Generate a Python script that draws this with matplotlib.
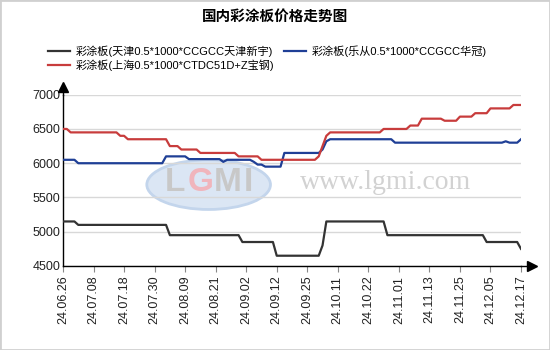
import matplotlib
matplotlib.use("Agg")
import matplotlib.pyplot as plt
from matplotlib.lines import Line2D
from matplotlib.patches import Ellipse, Rectangle
import numpy as np

plt.rcParams['font.family'] = ['Liberation Sans', 'Noto Sans CJK SC']

# tick labels, one every 8 trading days
tick_labels = ["24.06.26", "24.07.08", "24.07.18", "24.07.30", "24.08.09", "24.08.21",
               "24.09.02", "24.09.12", "24.09.25", "24.10.11", "24.10.22", "24.11.01",
               "24.11.13", "24.11.25", "24.12.05", "24.12.17"]

# 彩涂板(天津0.5*1000*CCGCC天津新宇)
tianjin = [5150, 5150, 5150, 5150, 5100, 5100, 5100, 5100, 5100, 5100,
           5100, 5100, 5100, 5100, 5100, 5100, 5100, 5100, 5100, 5100,
           5100, 5100, 5100, 5100, 5100, 5100, 5100, 5100, 4950, 4950,
           4950, 4950, 4950, 4950, 4950, 4950, 4950, 4950, 4950, 4950,
           4950, 4950, 4950, 4950, 4950, 4950, 4950, 4850, 4850, 4850,
           4850, 4850, 4850, 4850, 4850, 4850, 4650, 4650, 4650, 4650,
           4650, 4650, 4650, 4650, 4650, 4650, 4650, 4650, 4800, 5150,
           5150, 5150, 5150, 5150, 5150, 5150, 5150, 5150, 5150, 5150,
           5150, 5150, 5150, 5150, 5150, 4950, 4950, 4950, 4950, 4950,
           4950, 4950, 4950, 4950, 4950, 4950, 4950, 4950, 4950, 4950,
           4950, 4950, 4950, 4950, 4950, 4950, 4950, 4950, 4950, 4950,
           4950, 4850, 4850, 4850, 4850, 4850, 4850, 4850, 4850, 4850,
           4750]

# 彩涂板(乐从0.5*1000*CCGCC华冠)
lecong = [6050, 6050, 6050, 6050, 6000, 6000, 6000, 6000, 6000, 6000,
          6000, 6000, 6000, 6000, 6000, 6000, 6000, 6000, 6000, 6000,
          6000, 6000, 6000, 6000, 6000, 6000, 6000, 6100, 6100, 6100,
          6100, 6100, 6100, 6060, 6060, 6060, 6060, 6060, 6060, 6060,
          6060, 6060, 6020, 6050, 6050, 6050, 6050, 6050, 6050, 6050,
          6020, 5980, 5980, 5950, 5950, 5950, 5950, 5950, 6150, 6150,
          6150, 6150, 6150, 6150, 6150, 6150, 6150, 6150, 6200, 6320,
          6350, 6350, 6350, 6350, 6350, 6350, 6350, 6350, 6350, 6350,
          6350, 6350, 6350, 6350, 6350, 6350, 6350, 6300, 6300, 6300,
          6300, 6300, 6300, 6300, 6300, 6300, 6300, 6300, 6300, 6300,
          6300, 6300, 6300, 6300, 6300, 6300, 6300, 6300, 6300, 6300,
          6300, 6300, 6300, 6300, 6300, 6300, 6320, 6300, 6300, 6300,
          6350]

# 彩涂板(上海0.5*1000*CTDC51D+Z宝钢)
shanghai = [6500, 6500, 6450, 6450, 6450, 6450, 6450, 6450, 6450, 6450,
            6450, 6450, 6450, 6450, 6450, 6400, 6400, 6350, 6350, 6350,
            6350, 6350, 6350, 6350, 6350, 6350, 6350, 6350, 6250, 6250,
            6250, 6200, 6200, 6200, 6200, 6200, 6150, 6150, 6150, 6150,
            6150, 6150, 6150, 6150, 6150, 6150, 6100, 6100, 6100, 6100,
            6100, 6100, 6050, 6050, 6050, 6050, 6050, 6050, 6050, 6050,
            6050, 6050, 6050, 6050, 6050, 6050, 6050, 6100, 6250, 6400,
            6450, 6450, 6450, 6450, 6450, 6450, 6450, 6450, 6450, 6450,
            6450, 6450, 6450, 6450, 6500, 6500, 6500, 6500, 6500, 6500,
            6500, 6550, 6550, 6550, 6650, 6650, 6650, 6650, 6650, 6650,
            6620, 6620, 6620, 6620, 6680, 6680, 6680, 6680, 6730, 6730,
            6730, 6730, 6800, 6800, 6800, 6800, 6800, 6800, 6850, 6850,
            6850]

x = np.arange(len(tianjin))

fig = plt.figure(figsize=(5.5, 3.5), dpi=100)
ax = fig.add_axes([63 / 550, 1 - 266 / 350, 458 / 550, 171.3 / 350])

# watermark
ax.add_patch(Ellipse((0.318, 0.475), 0.27, 0.29, transform=ax.transAxes,
                     facecolor="#dbe6f4", edgecolor="#c3d5ec", lw=2, zorder=0))
for ch, xx, col in zip("LGMI", [0.245, 0.3, 0.36, 0.405],
                       ["#c8c8c8", "#f0b5bc", "#c8c8c8", "#c8c8c8"]):
    ax.text(xx, 0.49, ch, transform=ax.transAxes, fontsize=24, fontweight="bold",
            color=col, ha="center", va="center", zorder=0.5)
ax.text(0.705, 0.49, "www.lgmi.com", transform=ax.transAxes, fontsize=20,
        family="Liberation Serif", color="#d2d2d2", ha="center", va="center", zorder=0.5)

l_tj, = ax.plot(x, tianjin, color="#333333", lw=1.6, zorder=3,
                label="彩涂板(天津0.5*1000*CCGCC天津新宇)")
l_lc, = ax.plot(x, lecong, color="#1f3f96", lw=1.6, zorder=3,
                label="彩涂板(乐从0.5*1000*CCGCC华冠)")
l_sh, = ax.plot(x, shanghai, color="#c83c3c", lw=1.6, zorder=3,
                label="彩涂板(上海0.5*1000*CTDC51D+Z宝钢)")

ax.set_xlim(0, len(x) - 1)
ax.set_ylim(4500, 7000)
ax.set_yticks(np.arange(4500, 7001, 500))
ax.set_xticks(np.arange(0, len(x), 8))
ax.set_xticklabels(tick_labels, rotation=90, fontsize=9, color="#222222")
ax.tick_params(axis="y", length=0, pad=2, labelsize=9, labelcolor="#222222")
ax.tick_params(axis="x", length=4, width=0.8, color="#888888", pad=3)
ax.grid(axis="y", color="#d8d8d8", lw=1)
ax.set_axisbelow(True)
for s in ["top", "right"]:
    ax.spines[s].set_visible(False)
ax.spines["left"].set_linewidth(1)
ax.spines["bottom"].set_linewidth(1)

# axis arrows
ax.plot([0, 0], [1, 1.04], transform=ax.transAxes, color="black", lw=1, clip_on=False)
ax.plot(0, 1.045, marker="^", ms=7, color="black", transform=ax.transAxes, clip_on=False)
ax.plot([1, 1.02], [0, 0], transform=ax.transAxes, color="black", lw=1, clip_on=False)
ax.plot(1.024, 0, marker=">", ms=7, color="black", transform=ax.transAxes, clip_on=False)

fig.text(0.5, 1 - 17 / 350, "国内彩涂板价格走势图", ha="center", va="center",
         fontsize=10.5, fontweight="bold")

fig.legend(handles=[l_tj, l_sh, l_lc], ncol=2, loc="upper left",
           bbox_to_anchor=(40 / 550, 1 - 38 / 350), frameon=False, fontsize=8,
           handlelength=2.0, handletextpad=0.5, columnspacing=0.9,
           labelspacing=0.2, borderpad=0.2)

fig.patches.append(Rectangle((0, 0), 1, 1, transform=fig.transFigure, fill=False,
                             edgecolor="#d0d0d0", lw=2))

fig.savefig("out.png", dpi=100)
